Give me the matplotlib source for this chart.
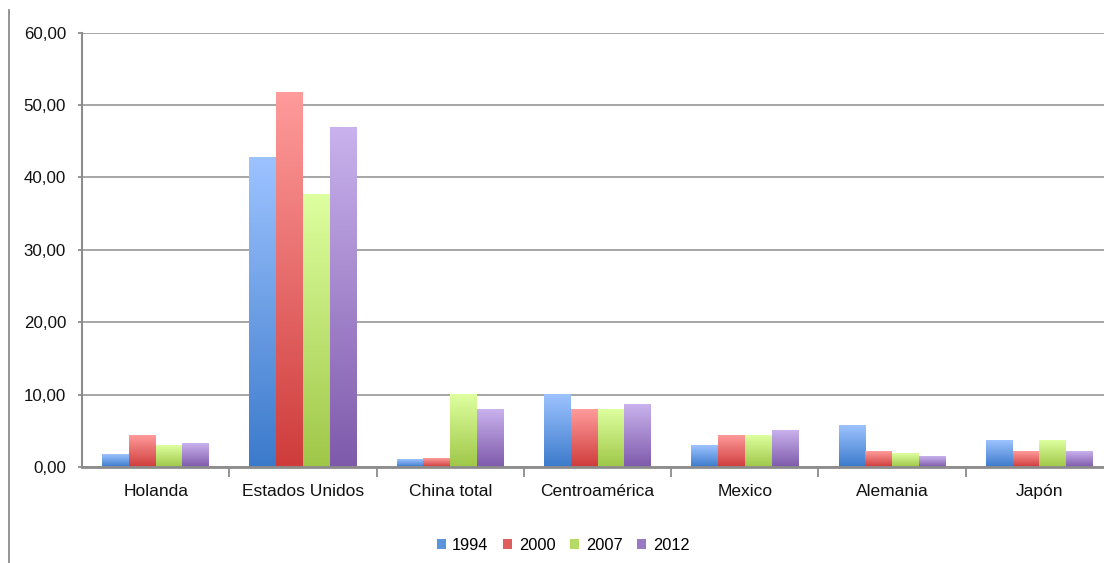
import numpy as np
import matplotlib
matplotlib.use('Agg')
import matplotlib.pyplot as plt
from matplotlib.colors import LinearSegmentedColormap
from matplotlib.patches import Patch
from matplotlib.lines import Line2D
from matplotlib.ticker import FuncFormatter, FixedLocator

#### Data
categories = ['Holanda', 'Estados Unidos', 'China total', 'Centroamérica',
              'Mexico', 'Alemania', 'Japón']
years = ['1994', '2000', '2007', '2012']
v1994 = [1.7, 42.8, 1.0, 10.0, 3.0, 5.7, 3.6]
v2000 = [4.3, 51.8, 1.2, 8.0, 4.3, 2.2, 2.2]
v2007 = [3.0, 37.6, 10.0, 7.9, 4.4, 1.9, 3.7]
v2012 = [3.2, 46.9, 7.9, 8.6, 5.0, 1.4, 2.1]
series = [v1994, v2000, v2007, v2012]

# (top colour, bottom colour) of each gradient
colours = [('#9DC3FF', '#3B7ACB'),
           ('#FF9B9B', '#CE3C3B'),
           ('#DEFF9F', '#9FC748'),
           ('#C9B2ED', '#7E5AAB')]

plt.rcParams['font.family'] = ['Liberation Sans', 'DejaVu Sans']

fig = plt.figure(figsize=(11.04, 5.63), dpi=100)
ax = fig.add_axes([82 / 1104, 96 / 563, 1031 / 1104, 434.3 / 563])

x = np.arange(len(categories))
width = 1 / 5.5
grad = np.linspace(0, 1, 256).reshape(-1, 1)

for i, vals in enumerate(series):
    top, bottom = colours[i]
    cmap = LinearSegmentedColormap.from_list('g%d' % i, [bottom, top])
    bars = ax.bar(x + (i - 1.5) * width, vals, width, color='none', zorder=3)
    for b in bars:
        x0, w, h = b.get_x(), b.get_width(), b.get_height()
        ax.imshow(grad, extent=(x0, x0 + w, 0, h), origin='lower', cmap=cmap,
                  aspect='auto', interpolation='bilinear', zorder=3)

ax.set_xlim(-0.5, len(categories) - 0.5)
ax.set_ylim(0, 60)
ax.set_yticks(np.arange(0, 61, 10))
ax.yaxis.set_major_formatter(FuncFormatter(lambda v, p: ('%.2f' % v).replace('.', ',')))
ax.grid(axis='y', color='#A6A6A6', linewidth=1.4, zorder=1)
ax.set_axisbelow(True)

ax.set_xticks(x)
ax.set_xticklabels(categories)
ax.xaxis.set_minor_locator(FixedLocator(np.arange(0.5, len(categories), 1)))
ax.tick_params(axis='x', which='major', length=0, pad=12, labelsize=12.5, colors='#111111')
ax.tick_params(axis='x', which='minor', length=7, width=1.3, color='#8C8C8C')
ax.tick_params(axis='y', length=3, width=1.3, color='#8C8C8C', pad=8.5,
               labelsize=12.2, labelcolor='#111111')

for s in ['top', 'right']:
    ax.spines[s].set_visible(False)
ax.spines['left'].set_color('#8C8C8C')
ax.spines['left'].set_linewidth(1.5)
ax.spines['bottom'].set_color('#8C8C8C')
ax.spines['bottom'].set_linewidth(2)
ax.spines['bottom'].set_zorder(4)

# chart frame line on the left
fig.add_artist(Line2D([9 / 1104, 9 / 1104], [0, 1 - 10 / 563],
                      color='#8C8C8C', linewidth=1.3))

handles = [Patch(facecolor=LinearSegmentedColormap.from_list('h', [c[1], c[0]])(0.35),
                 edgecolor='none') for c in colours]
fig.legend(handles, years, loc='center', bbox_to_anchor=(563 / 1104, 1 - 545 / 563),
           ncol=4, frameon=False, fontsize=11.8, handlelength=0.55, handleheight=0.55,
           handletextpad=0.4, columnspacing=0.9)

fig.savefig('out.png', dpi=100)
